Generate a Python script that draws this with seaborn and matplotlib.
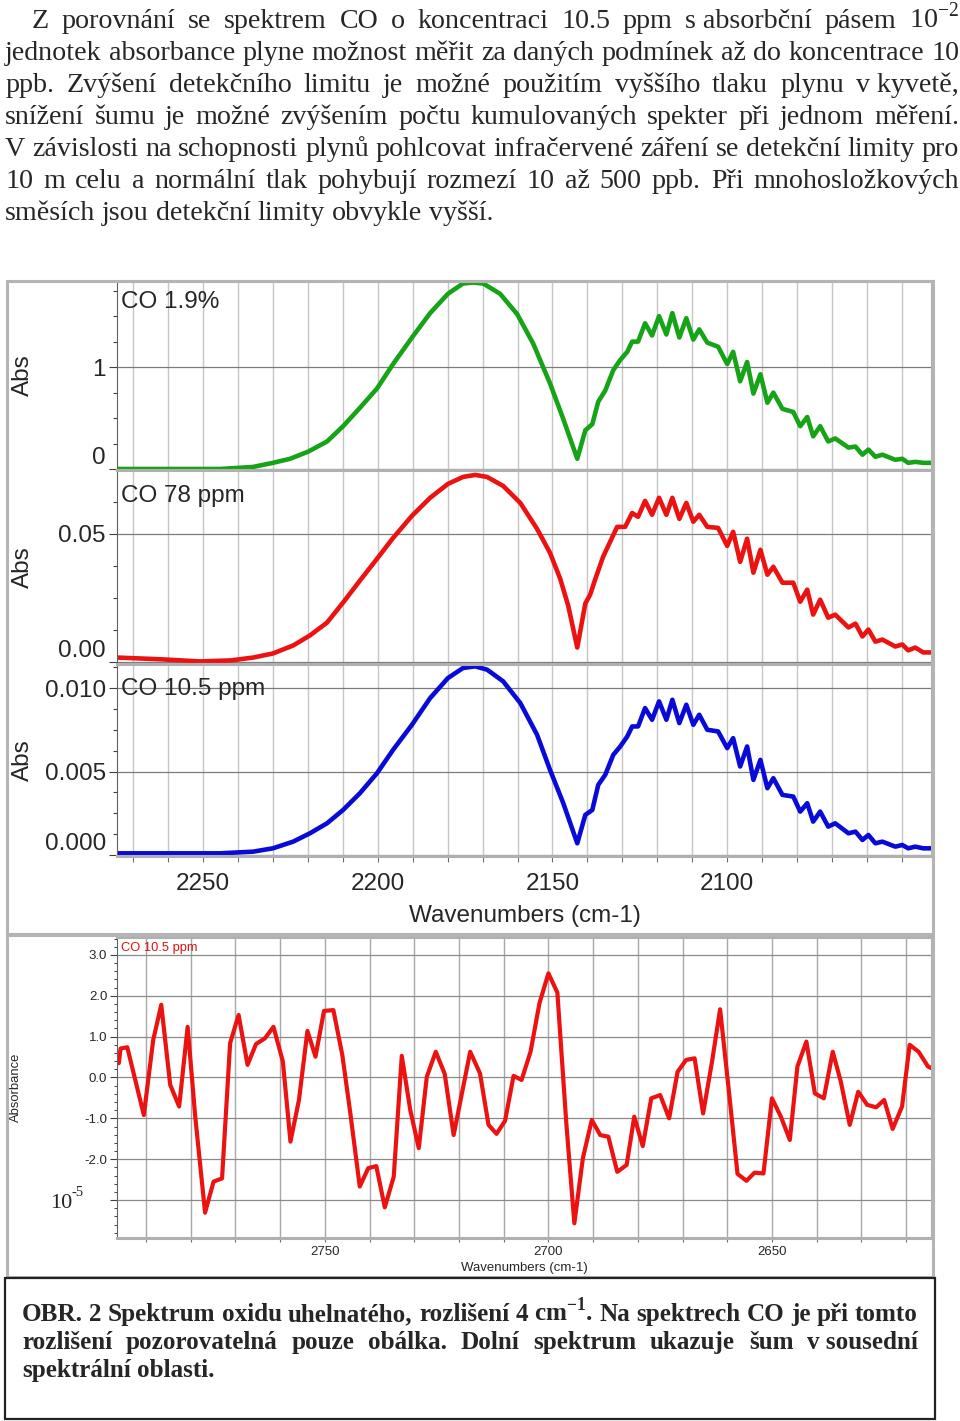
import matplotlib
matplotlib.use("Agg")
import matplotlib.pyplot as plt
from matplotlib.ticker import MultipleLocator, FixedLocator
from matplotlib.patches import Rectangle
import seaborn as sns

sns.set_theme(style="white")
plt.rcParams["font.family"] = ["Liberation Sans", "DejaVu Sans"]
plt.rcParams["mathtext.fontset"] = "custom"
plt.rcParams["mathtext.rm"] = "Liberation Serif"
plt.rcParams["mathtext.bf"] = "Liberation Serif:bold"
plt.rcParams["axes.unicode_minus"] = False

# ---- data ----
wn_green = [2274.3, 2245.1, 2235.7, 2230.0, 2225.1, 2219.9, 2214.5, 2209.9, 2205.1, 2200.2,
            2195.6, 2190.2, 2185.0, 2179.9, 2175.6, 2172.7, 2169.8, 2165.0, 2160.1, 2155.5,
            2150.7, 2146.9, 2142.9, 2140.6, 2138.6, 2136.9, 2134.9, 2132.6, 2130.6, 2128.6,
            2127.2, 2125.5, 2123.5, 2121.5, 2119.5, 2117.4, 2115.7, 2113.7, 2111.7, 2109.7,
            2108.0, 2105.7, 2102.6, 2100.0, 2098.3, 2096.3, 2094.3, 2092.5, 2090.5, 2088.5,
            2086.8, 2084.2, 2081.1, 2079.1, 2077.1, 2075.4, 2073.4, 2071.1, 2069.1, 2065.3,
            2063.3, 2061.3, 2059.6, 2057.6, 2055.6, 2051.9, 2049.9, 2048.2, 2046.2, 2043.9,
            2041.3]
abs_green = [0.00, 0.00, 0.02, 0.06, 0.10, 0.17, 0.27, 0.42, 0.60, 0.79,
             1.03, 1.29, 1.53, 1.72, 1.82, 1.83, 1.82, 1.72, 1.52, 1.23,
             0.84, 0.49, 0.10, 0.38, 0.44, 0.66, 0.77, 0.97, 1.07, 1.15,
             1.25, 1.25, 1.43, 1.31, 1.50, 1.32, 1.53, 1.29, 1.48, 1.27,
             1.37, 1.24, 1.20, 1.03, 1.15, 0.86, 1.05, 0.74, 0.93, 0.65,
             0.75, 0.59, 0.56, 0.42, 0.51, 0.32, 0.42, 0.27, 0.30, 0.21,
             0.22, 0.14, 0.19, 0.12, 0.14, 0.09, 0.10, 0.06, 0.07, 0.06,
             0.06]

wn_red = [2274.3, 2261.5, 2250.9, 2242.0, 2235.7, 2230.0, 2224.2, 2219.4, 2214.5, 2209.9,
          2205.1, 2200.2, 2195.6, 2190.2, 2185.0, 2179.9, 2175.6, 2172.1, 2168.7, 2164.1,
          2159.2, 2154.4, 2150.7, 2147.8, 2145.5, 2142.9, 2140.6, 2139.2, 2137.8, 2135.5,
          2131.5, 2129.2, 2127.2, 2125.5, 2123.5, 2121.5, 2119.5, 2117.4, 2115.7, 2113.7,
          2111.7, 2109.7, 2108.0, 2105.7, 2102.6, 2100.0, 2098.3, 2096.3, 2094.3, 2092.5,
          2090.5, 2088.5, 2086.8, 2084.2, 2081.1, 2079.1, 2077.1, 2075.4, 2073.4, 2071.1,
          2069.1, 2065.3, 2063.3, 2061.3, 2059.6, 2057.6, 2055.6, 2051.9, 2049.9, 2048.2,
          2046.2, 2043.9, 2041.3]
abs_red = [0.0019, 0.0012, 0.0004, 0.0008, 0.0019, 0.0035, 0.0066, 0.0105, 0.0155, 0.0233,
           0.0318, 0.0403, 0.0484, 0.0570, 0.0640, 0.0694, 0.0721, 0.0729, 0.0721, 0.0686,
           0.0620, 0.0519, 0.0426, 0.0326, 0.0221, 0.0058, 0.0229, 0.0264, 0.0322, 0.0411,
           0.0527, 0.0527, 0.0581, 0.0566, 0.0628, 0.0574, 0.0640, 0.0574, 0.0640, 0.0558,
           0.0620, 0.0547, 0.0574, 0.0527, 0.0523, 0.0453, 0.0508, 0.0391, 0.0481, 0.0349,
           0.0438, 0.0341, 0.0372, 0.0310, 0.0310, 0.0236, 0.0283, 0.0186, 0.0244, 0.0174,
           0.0186, 0.0136, 0.0151, 0.0101, 0.0128, 0.0081, 0.0089, 0.0062, 0.0070, 0.0047,
           0.0058, 0.0039, 0.0039]

wn_blue = [2274.3, 2245.1, 2235.7, 2230.0, 2224.2, 2219.4, 2214.5, 2209.9, 2205.1, 2200.2,
           2195.6, 2190.2, 2185.0, 2179.9, 2175.6, 2172.1, 2168.7, 2164.1, 2159.2, 2154.4,
           2150.7, 2146.9, 2142.9, 2140.6, 2138.6, 2136.9, 2134.9, 2132.6, 2130.6, 2128.6,
           2127.2, 2125.5, 2123.5, 2121.5, 2119.5, 2117.4, 2115.7, 2113.7, 2111.7, 2109.7,
           2108.0, 2105.7, 2102.6, 2100.0, 2098.3, 2096.3, 2094.3, 2092.5, 2090.5, 2088.5,
           2086.8, 2084.2, 2081.1, 2079.1, 2077.1, 2075.4, 2073.4, 2071.1, 2069.1, 2065.3,
           2063.3, 2061.3, 2059.6, 2057.6, 2055.6, 2051.9, 2049.9, 2048.2, 2046.2, 2043.9,
           2041.3]
abs_blue = [0.0001, 0.0001, 0.0002, 0.0004, 0.0008, 0.0013, 0.0019, 0.0027, 0.0037, 0.0049,
            0.0063, 0.0078, 0.0094, 0.0106, 0.0112, 0.0113, 0.0111, 0.0104, 0.0091, 0.0072,
            0.0051, 0.0031, 0.0007, 0.0024, 0.0027, 0.0042, 0.0048, 0.0060, 0.0065, 0.0071,
            0.0077, 0.0077, 0.0088, 0.0081, 0.0092, 0.0081, 0.0093, 0.0079, 0.0090, 0.0078,
            0.0084, 0.0075, 0.0074, 0.0064, 0.0070, 0.0053, 0.0065, 0.0045, 0.0057, 0.0040,
            0.0046, 0.0036, 0.0035, 0.0026, 0.0031, 0.0020, 0.0026, 0.0017, 0.0019, 0.0013,
            0.0014, 0.0009, 0.0012, 0.0007, 0.0008, 0.0005, 0.0006, 0.0004, 0.0005, 0.0004,
            0.0004]

wn_noise = [2796.1, 2795.7, 2794.2, 2790.5, 2788.4, 2786.6, 2784.6, 2782.6, 2780.7, 2779.0,
            2776.8, 2774.9, 2773.0, 2771.2, 2769.3, 2767.3, 2765.4, 2763.4, 2761.5, 2759.4,
            2757.7, 2755.8, 2753.9, 2752.1, 2750.2, 2748.1, 2746.1, 2744.4, 2742.2, 2740.3,
            2738.5, 2736.6, 2734.6, 2732.8, 2730.9, 2729.0, 2727.2, 2725.2, 2723.2, 2721.2,
            2717.5, 2715.3, 2713.4, 2711.6, 2709.7, 2707.8, 2706.0, 2704.0, 2702.0, 2700.0,
            2698.0, 2696.0, 2694.2, 2692.3, 2690.3, 2688.4, 2686.6, 2684.6, 2682.5, 2680.8,
            2678.9, 2677.0, 2675.0, 2673.0, 2671.1, 2669.2, 2667.3, 2665.4, 2663.4, 2661.6,
            2659.5, 2657.7, 2655.7, 2653.9, 2651.9, 2650.0, 2648.0, 2646.0, 2644.3, 2642.3,
            2640.4, 2638.4, 2636.4, 2634.6, 2632.6, 2630.7, 2628.7, 2626.7, 2624.9, 2623.0,
            2620.9, 2619.2, 2617.2, 2615.1, 2614.2]
abs_noise = [0.35, 0.71, 0.74, -0.92, 0.92, 1.78, -0.18, -0.71, 1.24, -0.96,
             -3.31, -2.55, -2.47, 0.84, 1.53, 0.31, 0.82, 0.96, 1.24, 0.39,
             -1.57, -0.55, 1.14, 0.51, 1.63, 1.65, 0.55, -0.80, -2.67, -2.22,
             -2.17, -3.18, -2.43, 0.53, -0.80, -1.73, 0.02, 0.63, 0.09, -1.41,
             0.63, 0.10, -1.16, -1.38, -1.06, 0.04, -0.06, 0.63, 1.82, 2.55,
             2.08, -1.12, -3.57, -1.98, -1.04, -1.41, -1.45, -2.31, -2.14, -0.96,
             -1.68, -0.51, -0.43, -1.00, 0.14, 0.43, 0.47, -0.88, 0.39, 1.67,
             -0.47, -2.36, -2.53, -2.33, -2.35, -0.51, -0.96, -1.53, 0.27, 0.88,
             -0.39, -0.51, 0.63, -0.10, -1.16, -0.35, -0.67, -0.73, -0.55, -1.26,
             -0.71, 0.80, 0.63, 0.27, 0.22]

panel_labels = ["CO 1.9%", "CO 78 ppm", "CO 10.5 ppm"]
green_ticks, green_tlabels = [0, 1], ["0", "1"]
red_ticks, red_tlabels = [0, 0.05], ["0.00", "0.05"]
blue_ticks, blue_tlabels = [0, 0.005, 0.010], ["0.000", "0.005", "0.010"]
wn_ticks = [2250, 2200, 2150, 2100]
noise_xticks = [2750, 2700, 2650]
noise_ticks = [-3, -2, -1, 0, 1, 2, 3]
noise_tlabels = ["", "-2.0", "-1.0", "0.0", "1.0", "2.0", "3.0"]

paragraph = [
    "Z porovnání se spektrem CO o koncentraci 10.5 ppm s\u00a0absorbční pásem 10$^{-2}$",
    "jednotek absorbance plyne možnost měřit za daných podmínek až do koncentrace 10",
    "ppb. Zvýšení detekčního limitu je možné použitím vyššího tlaku plynu v\u00a0kyvetě,",
    "snížení šumu je možné zvýšením počtu kumulovaných spekter při jednom měření.",
    "V závislosti na schopnosti plynů pohlcovat infračervené záření se detekční limity pro",
    "10 m celu a normální tlak pohybují rozmezí 10 až 500 ppb. Při mnohosložkových",
    "směsích jsou detekční limity obvykle vyšší.",
]
caption = [
    "OBR. 2 Spektrum oxidu uhelnatého, rozlišení 4 cm$^{\\mathbf{-1}}$. Na spektrech CO je při tomto",
    "rozlišení pozorovatelná pouze obálka. Dolní spektrum ukazuje šum v\u00a0sousední",
    "spektrální oblasti.",
]

W, H = 960, 1421
fig = plt.figure(figsize=(W / 100, H / 100), dpi=100)


def rect(x0, y0, x1, y1):
    return [x0 / W, 1 - y1 / H, (x1 - x0) / W, (y1 - y0) / H]


def ftext(x, y, s, **kw):
    return fig.text(x / W, 1 - y / H, s, **kw)


# frames around the two chart blocks and the caption box
for (x0, y0, x1, y1, col, lw) in [(7, 281, 933, 934, "#b4b4b4", 2.2),
                                  (7, 935, 933, 1277, "#b4b4b4", 2.2),
                                  (5, 1278, 935, 1419, "#222222", 1.6)]:
    fig.add_artist(Rectangle((x0 / W, 1 - y1 / H), (x1 - x0) / W, (y1 - y0) / H,
                             transform=fig.transFigure, fill=False, edgecolor=col, lw=lw))

LS = 17.5  # label size in the big panels


def spectrum(box, wn, ab, color, ylim, ticks, tlabels, minor, label, base_y, show_x):
    ax = fig.add_axes(rect(*box))
    sns.lineplot(x=wn, y=ab, ax=ax, color=color, linewidth=3.3, sort=False, estimator=None)
    ax.set_xlim(2274.6, 2041.4)
    ax.set_ylim(*ylim)
    ax.set_xlabel("")
    ax.set_ylabel("")
    ax.xaxis.set_major_locator(FixedLocator(wn_ticks))
    ax.xaxis.set_minor_locator(MultipleLocator(10))
    ax.set_yticks(ticks)
    ax.set_yticklabels(tlabels)
    ax.yaxis.set_minor_locator(MultipleLocator(minor))
    ax.grid(which="both", axis="x", color="#c6c6c6", lw=1.0)
    ax.grid(which="major", axis="y", color="#7c7c7c", lw=0.9)
    ax.set_axisbelow(True)
    for side in ["top", "right", "bottom"]:
        ax.spines[side].set_color("#b0b0b0")
        ax.spines[side].set_linewidth(2.2)
    ax.spines["left"].set_color("#606060")
    ax.spines["left"].set_linewidth(0.8)
    ax.tick_params(axis="y", which="major", direction="out", length=6, width=0.8,
                   color="#404040", left=True, labelsize=LS, pad=2)
    ax.tick_params(axis="y", which="minor", direction="out", length=3, width=0.8,
                   color="#404040", left=True)
    ax.get_yticklabels()[0].set_va("bottom")
    if show_x:
        ax.tick_params(axis="x", which="both", direction="out", length=4, width=0.8,
                       color="#707070", bottom=True, labelsize=LS, pad=8)
        ax.xaxis.set_major_formatter(plt.FormatStrFormatter("%d"))
    else:
        ax.tick_params(axis="x", which="both", bottom=False, labelbottom=False)
    ftext(121, base_y, label, fontsize=LS, va="baseline", ha="left")
    ftext(23, (box[1] + box[3]) / 2, "Abs", fontsize=LS, rotation=90, ha="center", va="center")
    return ax


spectrum((117, 281, 932, 470), wn_green, abs_green, "#16a318", (-0.01, 1.845),
         green_ticks, green_tlabels, 0.25, panel_labels[0], 308, False)
spectrum((117, 470, 932, 663.5), wn_red, abs_red, "#ec1212", (-0.0004, 0.0748),
         red_ticks, red_tlabels, 0.0125, panel_labels[1], 502, False)
spectrum((117, 664, 932, 856), wn_blue, abs_blue, "#0a0ad8", (-0.00006, 0.01144),
         blue_ticks, blue_tlabels, 0.00125, panel_labels[2], 695, True)
ftext(524.5, 916, "Wavenumbers (cm-1)", fontsize=LS, ha="center", va="center")

# ---- noise panel ----
ax = fig.add_axes(rect(117, 937, 932, 1238))
sns.lineplot(x=wn_noise, y=abs_noise, ax=ax, color="#ec1212", linewidth=3.0,
             sort=False, estimator=None)
ax.set_xlim(2796.5, 2614.2)
ax.set_ylim(-3.93, 3.44)
ax.set_xlabel("")
ax.set_ylabel("")
ax.xaxis.set_major_locator(FixedLocator(noise_xticks))
ax.xaxis.set_minor_locator(MultipleLocator(10))
ax.xaxis.set_major_formatter(plt.FormatStrFormatter("%d"))
ax.set_yticks(noise_ticks)
ax.set_yticklabels(noise_tlabels)
ax.yaxis.set_minor_locator(MultipleLocator(0.2))
ax.grid(which="both", axis="x", color="#a8a8a8", lw=1.0)
ax.grid(which="major", axis="y", color="#8a8a8a", lw=0.9)
ax.set_axisbelow(True)
for side in ["top", "right", "bottom"]:
    ax.spines[side].set_color("#b0b0b0")
    ax.spines[side].set_linewidth(2.2)
ax.spines["left"].set_color("#606060")
ax.spines["left"].set_linewidth(0.8)
ax.tick_params(axis="y", which="major", direction="out", length=5, width=0.8,
               color="#404040", left=True, labelsize=9.5, pad=2)
ax.tick_params(axis="y", which="minor", direction="out", length=2.5, width=0.7,
               color="#404040", left=True)
ax.tick_params(axis="x", which="both", direction="out", length=3, width=0.8,
               color="#707070", bottom=True, labelsize=9.5, pad=3)
ftext(121, 951, "CO 10.5 ppm", fontsize=9.3, color="#e01010", va="baseline")
ftext(16, 1087, "Absorbance", fontsize=9.4, rotation=90, ha="center", va="center")
ftext(50, 1208, "10", fontsize=16, family="Liberation Serif", va="baseline")
ftext(72, 1196, "-5", fontsize=10.5, family="Liberation Serif", va="baseline")
ftext(524.5, 1268, "Wavenumbers (cm-1)", fontsize=9.5, ha="center", va="center")

# ---- justified serif text blocks ----
renderer = fig.canvas.get_renderer()


def text_width(s, size, weight):
    t = fig.text(0, 0, s, fontsize=size, family="Liberation Serif", weight=weight)
    w = t.get_window_extent(renderer).width
    t.remove()
    return w


def justify(lines, left, right, first_base, step, size, weight="normal", indent=0):
    def natural(line, sz):
        words = line.split(" ")
        sp = text_width("a a", sz, weight) - text_width("aa", sz, weight)
        return sum(text_width(w, sz, weight) for w in words) + sp * (len(words) - 1)
    scale = 1.0
    for i, line in enumerate(lines[:-1]):
        avail = right - left - (indent if i == 0 else 0)
        scale = min(scale, avail / natural(line, size))
    size = size * scale
    sp = text_width("a a", size, weight) - text_width("aa", size, weight)
    for i, line in enumerate(lines):
        words = line.split(" ")
        widths = [text_width(w, size, weight) for w in words]
        x = left + (indent if i == 0 else 0)
        if i < len(lines) - 1 and len(words) > 1:
            gap = (right - x - sum(widths)) / (len(words) - 1)
        else:
            gap = sp
        y = first_base + i * step
        for w, wd in zip(words, widths):
            ftext(x, y, w, fontsize=size, family="Liberation Serif", weight=weight,
                  va="baseline", ha="left")
            x += wd + gap


justify(paragraph, 5, 959, 28, 32, 24, indent=27)
justify(caption, 22, 918, 1321, 28, 20, weight="bold")

fig.savefig("out.png", dpi=100)
